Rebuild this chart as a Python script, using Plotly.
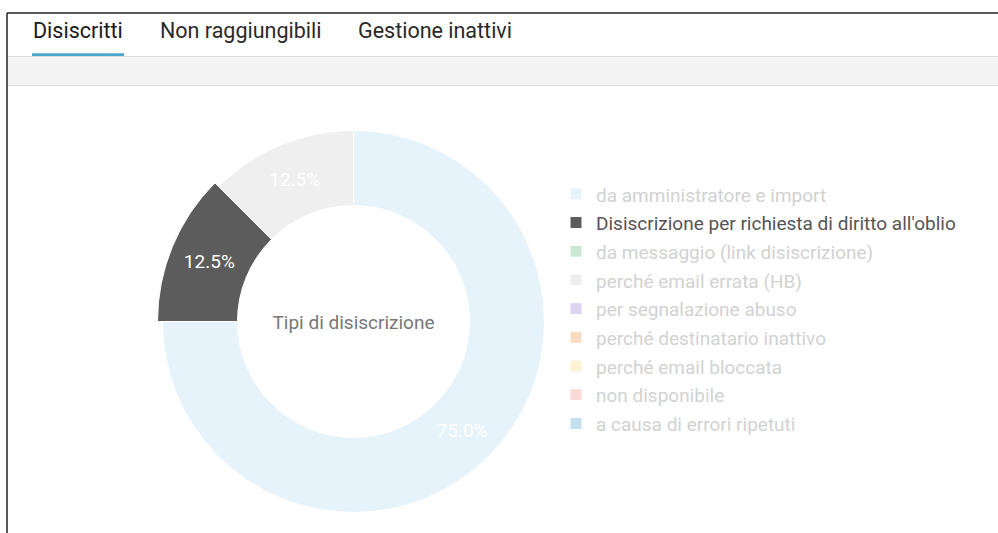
import plotly.graph_objects as go

# ---- data ----
categories = [
    "da amministratore e import",
    "Disiscrizione per richiesta di diritto all'oblio",
    "da messaggio (link disiscrizione)",
    "perché email errata (HB)",
    "per segnalazione abuso",
    "perché destinatario inattivo",
    "perché email bloccata",
    "non disponibile",
    "a causa di errori ripetuti",
]
values = [6, 1, 0, 1, 0, 0, 0, 0, 0]
center_title = "Tipi di disiscrizione"
tabs = ["Disiscritti", "Non raggiungibili", "Gestione inattivi"]

# ---- styles ----
slice_colors = ["#e6f3fa", "#5c5c5c", "#cbe8d7", "#efefef", "#dcd5f2",
                "#fcdcc1", "#fff2d4", "#fbd8d8", "#c4e0ee"]
highlight = 1
n = len(categories)
legend_text_colors = ["#555555" if i == highlight else "#d2d2d2" for i in range(n)]
styled_labels = [f"<span style='color:{c};font-size:19px'>{name}</span>"
                 for name, c in zip(categories, legend_text_colors)]
main_texts = ["%{percent:.1%}" if (v > 0 and i != highlight) else "" for i, v in enumerate(values)]
big_texts = ["%{percent:.1%}" if i == highlight else "" for i in range(n)]

W, H = 998, 533
def px(x):
    return x / W
def py(y):
    return 1 - y / H

cx, cy = 353.5, 321.5
r_main, r_big, r_in = 191, 196, 116

def dom(r):
    return dict(x=[px(cx - r), px(cx + r)], y=[py(cy + r), py(cy - r)])

fig = go.Figure()

# main donut
fig.add_trace(go.Pie(
    labels=styled_labels, values=values, sort=False, direction="clockwise", rotation=0,
    hole=r_in / r_main, domain=dom(r_main),
    marker=dict(colors=slice_colors, line=dict(color="white", width=1)),
    texttemplate=main_texts, textposition="inside", insidetextorientation="horizontal",
    textfont=dict(family="Roboto", size=19, color="white"),
    title=dict(text=center_title, position="middle center",
               font=dict(family="Roboto", size=19, color="#777777")),
    hoverinfo="label+percent",
))

# enlarged (hovered) slice on top
fig.add_trace(go.Pie(
    labels=styled_labels, values=values, sort=False, direction="clockwise", rotation=0,
    hole=r_in / r_big, domain=dom(r_big),
    marker=dict(colors=["rgba(0,0,0,0)" if i != highlight else slice_colors[i] for i in range(n)],
                line=dict(color="white", width=[1 if i == highlight else 0 for i in range(n)])),
    texttemplate=big_texts, textposition="inside", insidetextorientation="horizontal",
    textfont=dict(family="Roboto", size=19, color="white"),
    hoverinfo="skip", showlegend=False,
))

shapes = []
# outer frame
shapes.append(dict(type="line", xref="paper", yref="paper", x0=px(7), x1=1, y0=py(13), y1=py(13),
                   line=dict(color="#222222", width=1.5)))
shapes.append(dict(type="line", xref="paper", yref="paper", x0=px(7), x1=px(7), y0=py(13), y1=0,
                   line=dict(color="#222222", width=1.5)))
# gray band
shapes.append(dict(type="rect", xref="paper", yref="paper", x0=px(8), x1=1, y0=py(85.5), y1=py(56.5),
                   fillcolor="#f4f4f4", line=dict(width=0), layer="below"))
for yy in (56.5, 85.5):
    shapes.append(dict(type="line", xref="paper", yref="paper", x0=px(8), x1=1, y0=py(yy), y1=py(yy),
                       line=dict(color="#dcdde1", width=1)))
# active tab underline
shapes.append(dict(type="rect", xref="paper", yref="paper", x0=px(32), x1=px(124), y0=py(56), y1=py(53.3),
                   fillcolor="#4ba6cc", line=dict(width=0)))

tab_x = [31, 158, 356]
tab_colors = ["#1a1a1a", "#2a2a2a", "#2a2a2a"]
annotations = []
for t, x, c in zip(tabs, tab_x, tab_colors):
    annotations.append(dict(text=t, xref="paper", yref="paper", x=px(x), y=py(30.5),
                            xanchor="left", yanchor="middle", showarrow=False,
                            font=dict(family="Roboto", size=21.5, color=c)))

fig.update_layout(
    width=W, height=H, margin=dict(l=0, r=0, t=0, b=0),
    paper_bgcolor="white", plot_bgcolor="white",
    font=dict(family="Roboto"),
    showlegend=True,
    legend=dict(x=px(556), y=py(174.5), xanchor="left", yanchor="top",
                font=dict(family="Roboto", size=19.77, color="#d2d2d2"),
                bgcolor="rgba(0,0,0,0)", traceorder="normal"),
    shapes=shapes, annotations=annotations,
)

fig.write_html("out.html", config={"displayModeBar": False},
               post_script="document.body.style.margin='0';document.body.style.overflow='hidden';")
